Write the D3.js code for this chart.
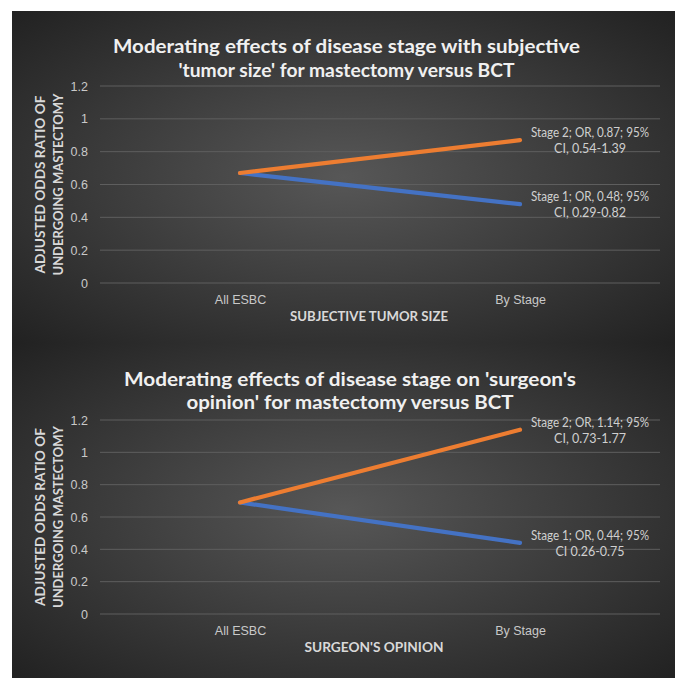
<!DOCTYPE html>
<html>
<head>
<meta charset="utf-8">
<script src="https://cdn.jsdelivr.net/npm/d3@7"></script>
<style>
  html, body { margin: 0; padding: 0; background: #ffffff; }
  svg { display: block; font-family: Lato, Calibri, Carlito, "Open Sans", sans-serif; }
</style>
</head>
<body>
<svg id="chart" width="687" height="691"></svg>
<script>
// ---- data ----
const categories = ["All ESBC", "By Stage"];
const yTicks = [0, 0.2, 0.4, 0.6, 0.8, 1, 1.2];

const tumorStage1 = [0.67, 0.48];
const tumorStage2 = [0.67, 0.87];
const surgeonStage1 = [0.69, 0.44];
const surgeonStage2 = [0.69, 1.14];

const tumorTitle = ["Moderating effects of disease stage with subjective", "'tumor size' for mastectomy versus BCT"];
const surgeonTitle = ["Moderating effects of disease stage on 'surgeon's", "opinion' for mastectomy versus BCT"];
const yTitle = ["ADJUSTED ODDS RATIO OF", "UNDERGOING  MASTECTOMY"];
const tumorXTitle = "SUBJECTIVE TUMOR SIZE";
const surgeonXTitle = "SURGEON'S OPINION";
const tumorLabels = [["Stage 1; OR, 0.48; 95%", "CI, 0.29-0.82"], ["Stage 2; OR, 0.87; 95%", "CI, 0.54-1.39"]];
const surgeonLabels = [["Stage 1; OR, 0.44; 95%", "CI 0.26-0.75"], ["Stage 2; OR, 1.14; 95%", "CI, 0.73-1.77"]];

const seriesColors = ["#4472C4", "#ED7D31"];

const svg = d3.select("#chart");
const defs = svg.append("defs");

function fit(sel, w) {
  sel.attr("textLength", w).attr("lengthAdjust", "spacingAndGlyphs");
}

const panels = [
  { top: 11, height: 332, title: tumorTitle, titleW: [467, 336], titleCx: 346.5, titleY: [53, 77],
    y0: 283, y1: 86, s1: tumorStage1, s2: tumorStage2, labels: tumorLabels,
    xTitle: tumorXTitle, xTitleCx: 369, xTitleW: 158, catY: 304, xTitleY: 321 },
  { top: 343, height: 335, title: surgeonTitle, titleW: [452, 327], titleCx: 350, titleY: [386, 409],
    y0: 614, y1: 420, s1: surgeonStage1, s2: surgeonStage2, labels: surgeonLabels,
    xTitle: surgeonXTitle, xTitleCx: 374, xTitleW: 139, catY: 635, xTitleY: 652 }
];

panels.forEach((p, i) => {
  const gid = "bg" + i;
  const grad = defs.append("radialGradient").attr("id", gid)
    .attr("cx", "50%").attr("cy", "50%").attr("r", "75%");
  grad.append("stop").attr("offset", "0%").attr("stop-color", "#575757");
  grad.append("stop").attr("offset", "100%").attr("stop-color", "#1e1e1e");

  svg.append("rect").attr("x", 12).attr("y", p.top).attr("width", 663).attr("height", p.height)
    .attr("fill", `url(#${gid})`);

  const g = svg.append("g");
  const x = d3.scalePoint().domain(categories).range([100, 660]).padding(0.5);
  const y = d3.scaleLinear().domain([0, 1.2]).range([p.y0, p.y1]);

  // gridlines
  g.append("g").selectAll("line").data(yTicks).join("line")
    .attr("x1", 100).attr("x2", 660)
    .attr("y1", d => y(d)).attr("y2", d => y(d))
    .attr("stroke", "#5e5e5e").attr("stroke-width", 1);

  // y axis tick labels
  const yAxis = d3.axisLeft(y).tickValues(yTicks).tickSize(0).tickPadding(0)
    .tickFormat(d => d3.format("~g")(d));
  const ya = g.append("g").attr("transform", "translate(88,0)").call(yAxis);
  ya.select(".domain").remove();
  ya.selectAll("text").attr("fill", "#c9c9c9").attr("font-size", 12.5).attr("font-family", null);

  // x axis category labels
  const xAxis = d3.axisBottom(x).tickSize(0).tickPadding(0);
  const xa = g.append("g").attr("transform", `translate(0,${p.catY - 9})`).call(xAxis);
  xa.select(".domain").remove();
  xa.selectAll("text").attr("fill", "#c9c9c9").attr("font-size", 12.5).attr("font-family", null)
    .attr("dy", "0.71em");

  // titles
  p.title.forEach((t, k) => {
    g.append("text").attr("x", p.titleCx).attr("y", p.titleY[k])
      .attr("text-anchor", "middle").attr("fill", "#f0f0f0")
      .attr("font-size", 18).attr("font-weight", "bold").text(t).call(fit, p.titleW[k]);
  });

  // x title
  g.append("text").attr("x", p.xTitleCx).attr("y", p.xTitleY).attr("text-anchor", "middle")
    .attr("fill", "#d9d9d9").attr("font-size", 13.5).attr("font-weight", "bold")
    .text(p.xTitle).call(fit, p.xTitleW);

  // y title
  const yc = (p.y0 + p.y1) / 2;
  yTitle.forEach((t, k) => {
    const tx = 45 + k * 18;
    g.append("text").attr("transform", `translate(${tx},${yc}) rotate(-90)`)
      .attr("text-anchor", "middle").attr("fill", "#d9d9d9")
      .attr("font-size", 14).attr("font-weight", "bold").text(t).call(fit, k === 0 ? 178 : 182);
  });

  // lines
  const line = d3.line().x((d, j) => x(categories[j])).y(d => y(d));
  [p.s1, p.s2].forEach((s, k) => {
    g.append("path").datum(s).attr("d", line).attr("fill", "none")
      .attr("stroke", seriesColors[k]).attr("stroke-width", 4.2)
      .attr("stroke-linecap", "round").attr("stroke-linejoin", "round");
  });

  // annotations
  [p.s1, p.s2].forEach((s, k) => {
    const py = y(s[1]);
    const lab = p.labels[k];
    lab.forEach((t, m) => {
      const tt = g.append("text").attr("x", 590).attr("y", py - 3 + m * 16)
        .attr("text-anchor", "middle").attr("fill", "#d0d0d0").attr("font-size", 12.5).text(t);
      if (m === 0) tt.call(fit, 118);
    });
  });
});
</script>
</body>
</html>
